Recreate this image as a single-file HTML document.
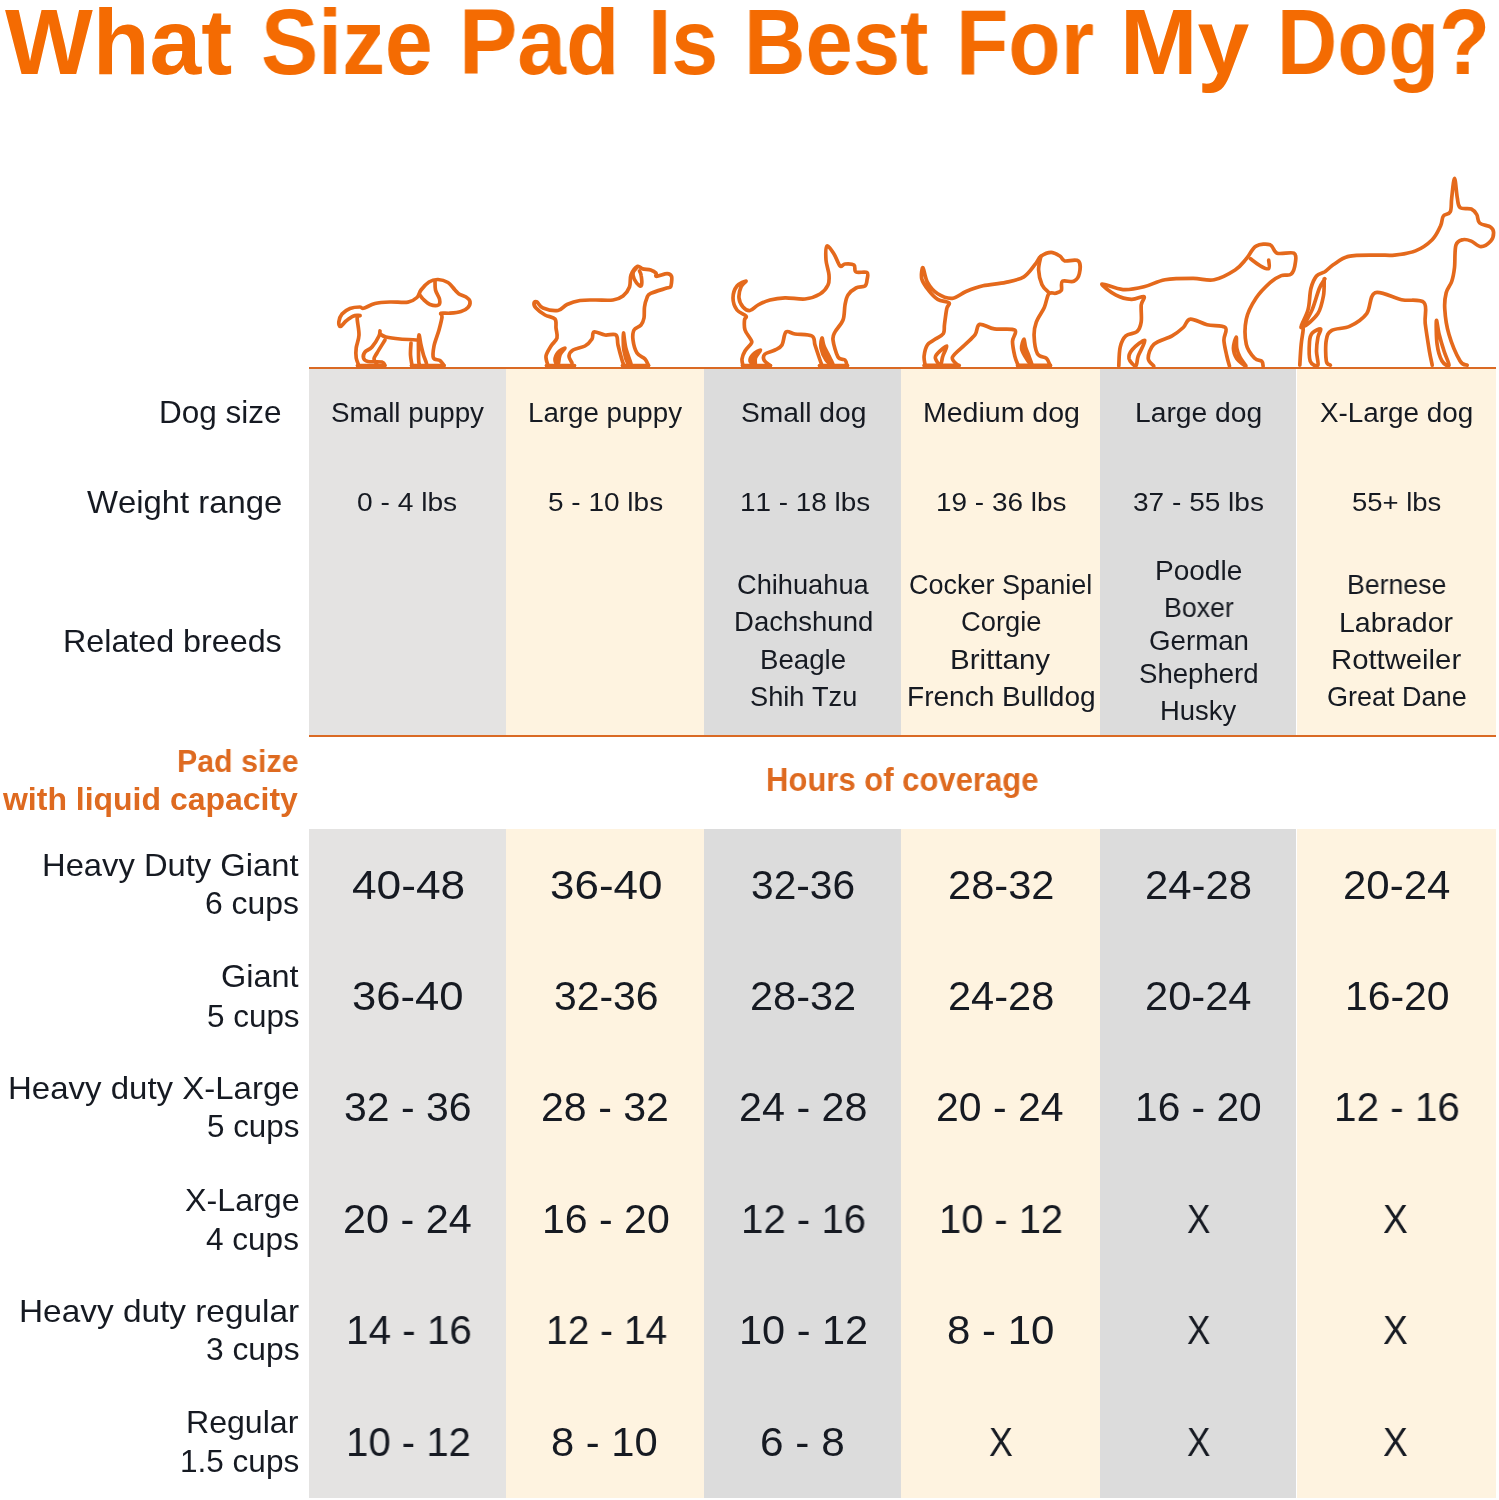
<!DOCTYPE html>
<html><head><meta charset="utf-8"><style>
html,body{margin:0;padding:0;background:#fff;}
body{width:1499px;height:1500px;position:relative;overflow:hidden;font-family:"Liberation Sans",sans-serif;color:#161A22;}
.t{position:absolute;white-space:pre;line-height:1;transform-origin:0 0;font-kerning:none;will-change:transform;}
</style></head><body>
<div style="position:absolute;left:309px;top:369px;width:197px;height:366px;background:#E4E3E2"></div><div style="position:absolute;left:309px;top:828.5px;width:197px;height:669px;background:#E4E3E2"></div><div style="position:absolute;left:506px;top:369px;width:198.3px;height:366px;background:#FEF3E0"></div><div style="position:absolute;left:506px;top:828.5px;width:198.3px;height:669px;background:#FEF3E0"></div><div style="position:absolute;left:704.3px;top:369px;width:196.7px;height:366px;background:#DCDCDC"></div><div style="position:absolute;left:704.3px;top:828.5px;width:196.7px;height:669px;background:#DCDCDC"></div><div style="position:absolute;left:901px;top:369px;width:199.2px;height:366px;background:#FEF3E0"></div><div style="position:absolute;left:901px;top:828.5px;width:199.2px;height:669px;background:#FEF3E0"></div><div style="position:absolute;left:1100.2px;top:369px;width:196.3px;height:366px;background:#DCDCDC"></div><div style="position:absolute;left:1100.2px;top:828.5px;width:196.3px;height:669px;background:#DCDCDC"></div><div style="position:absolute;left:1296.5px;top:369px;width:199.5px;height:366px;background:#FEF3E0"></div><div style="position:absolute;left:1296.5px;top:828.5px;width:199.5px;height:669px;background:#FEF3E0"></div>
<div style="position:absolute;left:309px;top:366.6px;width:1187px;height:2.4px;background:#DA6A24"></div><div style="position:absolute;left:309px;top:735.2px;width:1187px;height:2.3px;background:#DA6A24"></div>
<svg width="1499" height="1500" viewBox="0 0 1499 1500" style="position:absolute;left:0;top:0" fill="none" stroke="#E4691C" stroke-width="3.7" stroke-linecap="round" stroke-linejoin="round"><path d="M359.0 366.0C358.5 364.7 356.7 361.0 356.2 358.0C355.7 355.0 355.7 351.8 356.2 348.0C356.7 344.2 358.8 340.0 359.0 335.0C359.2 330.0 357.0 321.2 357.2 318.0C357.4 314.8 360.7 315.8 360.0 315.5C359.3 315.2 355.3 315.3 353.0 316.2C350.7 317.1 348.1 319.3 346.0 321.0C343.9 322.7 341.7 326.3 340.5 326.5C339.3 326.7 338.6 324.1 338.8 322.0C339.1 319.9 340.1 316.2 342.0 314.0C343.9 311.8 347.0 309.7 350.0 308.5C353.0 307.3 357.8 307.0 360.0 307.0C362.2 307.0 361.0 308.9 363.5 308.3C366.0 307.7 370.6 304.6 375.0 303.5C379.4 302.4 384.5 302.2 390.0 302.0C395.5 301.8 403.5 302.9 408.0 302.2C412.5 301.4 414.8 299.5 417.0 297.5C419.2 295.5 419.0 292.6 421.0 290.0C423.0 287.4 426.2 283.8 429.0 282.0C431.8 280.2 434.8 279.4 438.0 279.5C441.2 279.6 445.2 280.8 448.0 282.5C450.8 284.2 453.2 288.1 455.0 290.0C456.8 291.9 457.2 292.8 459.0 294.0C460.8 295.2 464.2 295.8 466.0 297.0C467.8 298.2 469.7 299.8 470.0 301.5C470.3 303.2 469.5 305.8 468.0 307.5C466.5 309.2 464.0 310.6 461.0 311.5C458.0 312.4 453.3 312.9 450.0 313.2C446.7 313.5 442.3 312.6 441.0 313.2C439.7 313.8 442.3 314.2 442.0 317.0C441.7 319.8 440.3 325.2 439.0 330.0C437.7 334.8 434.9 341.3 434.0 346.0C433.1 350.7 432.5 355.6 433.5 358.0C434.5 360.4 438.2 359.2 440.0 360.5C441.8 361.8 443.3 364.7 444.0 365.5"/><path d="M435.0 281.0C435.1 282.5 434.8 287.0 435.5 290.0C436.2 293.0 439.0 296.5 439.5 299.0C440.0 301.5 440.1 304.1 438.5 305.0C436.9 305.9 432.6 305.5 430.0 304.5C427.4 303.5 424.8 300.7 423.0 299.0C421.2 297.3 420.1 295.2 419.5 294.5"/><path d="M380.0 331.0C379.8 331.8 380.3 333.3 379.0 336.0C377.7 338.7 374.3 344.3 372.0 347.0C369.7 349.7 366.4 350.2 365.0 352.0C363.6 353.8 363.0 356.4 363.5 358.0C364.0 359.6 364.9 360.8 368.0 361.5C371.1 362.2 379.2 361.3 382.0 362.0C384.8 362.7 384.5 364.9 385.0 365.5"/><path d="M385.0 340.0C383.7 342.2 378.8 349.8 377.0 353.0C375.2 356.2 374.0 357.1 374.0 359.0C374.0 360.9 376.5 363.6 377.0 364.5"/><path d="M380.0 334.0C381.0 334.5 382.7 336.2 386.0 337.0C389.3 337.8 394.7 338.5 400.0 339.0C405.3 339.5 415.0 339.8 418.0 340.0"/><path d="M411.0 343.0C410.9 345.0 410.3 351.2 410.5 355.0C410.7 358.8 411.8 363.8 412.0 365.5"/><path d="M419.0 335.0C419.4 334.2 420.2 341.7 421.0 345.0C421.8 348.3 422.6 351.7 423.5 355.0C424.4 358.3 427.2 363.3 426.5 365.0C425.8 366.7 420.8 367.5 419.5 365.0C418.2 362.5 418.6 355.0 418.5 350.0C418.4 345.0 418.6 335.8 419.0 335.0Z"/><path d="M357.5 365.5H384.5"/><path d="M411.5 365.5H444.0"/><path d="M548.0 365.5C547.7 363.9 545.5 359.2 546.0 356.0C546.5 352.8 549.2 349.0 551.0 346.0C552.8 343.0 556.2 341.0 557.0 338.0C557.8 335.0 556.3 331.2 556.0 328.0C555.7 324.8 556.8 321.2 555.0 319.0C553.2 316.8 548.2 316.8 545.0 315.0C541.8 313.2 537.8 310.0 536.0 308.0C534.2 306.0 533.8 304.0 534.0 303.0C534.2 302.0 535.5 301.2 537.0 302.0C538.5 302.8 539.5 306.6 543.0 308.0C546.5 309.4 554.0 311.1 558.0 310.5C562.0 309.9 563.3 306.2 567.0 304.5C570.7 302.8 575.3 301.2 580.0 300.5C584.7 299.8 589.5 300.1 595.0 300.0C600.5 299.9 608.3 300.7 613.0 300.0C617.7 299.3 620.2 298.2 623.0 296.0C625.8 293.8 628.2 290.5 629.5 287.0C630.8 283.5 629.7 278.4 631.0 275.0C632.3 271.6 635.4 267.4 637.4 266.4C639.4 265.4 640.5 268.3 642.7 268.9C644.9 269.5 648.5 269.2 650.7 269.9C652.9 270.6 655.0 272.0 656.0 273.1C657.0 274.2 654.7 276.2 656.6 276.3C658.5 276.4 664.7 273.7 667.2 273.7C669.7 273.7 670.8 274.8 671.5 276.3C672.2 277.8 671.7 280.9 671.5 282.7C671.3 284.5 671.2 286.1 670.4 287.0C669.6 287.9 670.0 287.0 666.7 288.1C663.4 289.2 654.0 291.8 650.7 293.4C647.4 295.0 648.0 295.4 647.0 297.7C646.0 300.0 645.0 303.6 644.5 307.0C644.0 310.4 644.6 315.0 644.0 318.0C643.4 321.0 642.7 323.0 641.0 325.0C639.3 327.0 635.3 327.5 634.0 330.0C632.7 332.5 632.5 336.2 633.0 340.0C633.5 343.8 635.0 349.8 637.0 353.0C639.0 356.2 643.1 356.9 645.0 359.0C646.9 361.1 647.9 364.4 648.5 365.5"/><path d="M637.4 266.7C636.7 267.7 633.6 270.6 633.1 272.6C632.6 274.7 633.2 276.9 634.2 279.0C635.2 281.1 637.8 284.4 639.0 285.4C640.2 286.4 641.2 286.6 641.6 284.9C642.0 283.2 641.5 277.6 641.1 275.3C640.8 273.0 639.8 271.7 639.5 271.0"/><path d="M572.0 363.0C571.5 361.8 568.8 358.2 569.0 356.0C569.2 353.8 570.3 351.7 573.0 350.0C575.7 348.3 581.8 347.8 585.0 346.0C588.2 344.2 590.5 341.3 592.0 339.0C593.5 336.7 591.8 332.7 594.0 332.0C596.2 331.3 601.3 334.5 605.0 335.0C608.7 335.5 613.8 333.3 616.0 335.0C618.2 336.7 617.0 340.8 618.0 345.0C619.0 349.2 621.0 356.6 622.0 360.0C623.0 363.4 623.7 364.6 624.0 365.5"/><path fill="#E4691C" d="M565.0 348.0C564.7 347.6 559.7 350.5 558.0 352.5C556.3 354.5 555.0 357.8 555.0 360.0C555.0 362.2 557.2 366.3 558.0 365.5C558.8 364.7 558.8 357.9 560.0 355.0C561.2 352.1 565.3 348.4 565.0 348.0Z"/><path fill="#E4691C" d="M623.5 333.0C623.2 333.3 623.0 344.7 623.8 350.0C624.6 355.3 627.3 362.7 628.5 365.0C629.7 367.3 631.5 366.8 631.0 364.0C630.5 361.2 627.0 353.2 625.8 348.0C624.5 342.8 623.8 332.7 623.5 333.0Z"/><path d="M546.5 365.5H574.5"/><path d="M622.5 365.5H648.5"/><path d="M743.0 365.5C742.8 364.4 741.7 361.4 742.0 359.0C742.3 356.6 743.4 353.7 745.0 351.0C746.6 348.3 750.6 345.0 751.5 343.0C752.4 341.0 751.6 341.2 750.5 339.0C749.4 336.8 746.0 333.2 745.0 330.0C744.0 326.8 744.3 322.3 744.5 320.0C744.7 317.7 747.2 317.7 746.0 316.0C744.8 314.3 739.2 313.0 737.0 310.0C734.8 307.0 733.0 302.0 733.0 298.0C733.0 294.0 734.8 288.8 737.0 286.0C739.2 283.2 745.3 280.8 746.0 281.0C746.7 281.2 742.2 284.2 741.0 287.0C739.8 289.8 738.7 294.7 739.0 298.0C739.3 301.3 741.2 304.9 743.0 307.0C744.8 309.1 747.5 310.8 750.0 310.5C752.5 310.2 754.7 306.8 758.0 305.0C761.3 303.2 765.5 301.2 770.0 300.0C774.5 298.8 779.2 298.0 785.0 297.8C790.8 297.6 799.2 299.6 805.0 299.0C810.8 298.4 816.2 296.3 820.0 294.0C823.8 291.7 826.5 288.2 828.0 285.0C829.5 281.8 829.3 279.2 829.0 275.0C828.7 270.8 826.3 264.8 826.0 260.0C825.7 255.2 825.7 247.0 827.0 246.0C828.3 245.0 831.8 250.7 834.0 254.0C836.2 257.3 838.2 264.3 840.0 266.0C841.8 267.7 842.7 264.2 845.0 264.0C847.3 263.8 852.2 263.7 854.0 265.0C855.8 266.3 853.8 270.8 856.0 272.0C858.2 273.2 865.2 271.2 867.0 272.5C868.8 273.8 867.3 277.8 867.0 280.0C866.7 282.2 866.8 284.7 865.0 286.0C863.2 287.3 858.8 286.5 856.0 288.0C853.2 289.5 849.8 292.2 848.0 295.0C846.2 297.8 845.8 300.8 845.0 305.0C844.2 309.2 844.7 315.5 843.0 320.0C841.3 324.5 836.7 328.7 835.0 332.0C833.3 335.3 832.5 335.8 833.0 340.0C833.5 344.2 836.0 353.7 838.0 357.0C840.0 360.3 843.5 358.6 845.0 360.0C846.5 361.4 846.7 364.6 847.0 365.5"/><path d="M770.0 365.5C769.0 364.6 764.8 361.9 764.0 360.0C763.2 358.1 763.2 355.7 765.0 354.0C766.8 352.3 772.2 351.5 775.0 350.0C777.8 348.5 780.2 348.0 782.0 345.0C783.8 342.0 783.8 333.8 786.0 332.0C788.2 330.2 790.7 333.3 795.0 334.0C799.3 334.7 808.7 334.2 812.0 336.0C815.3 337.8 813.7 341.0 815.0 345.0C816.3 349.0 818.8 356.6 820.0 360.0C821.2 363.4 821.7 364.6 822.0 365.5"/><path fill="#E4691C" d="M760.5 350.0C760.1 349.4 754.8 352.7 753.0 354.5C751.2 356.3 749.7 359.2 750.0 361.0C750.3 362.8 754.1 366.0 755.0 365.5C755.9 365.0 754.6 360.6 755.5 358.0C756.4 355.4 760.9 350.6 760.5 350.0Z"/><path fill="#E4691C" d="M822.0 338.0C821.5 338.3 820.3 344.3 821.0 348.0C821.7 351.7 824.0 357.1 826.0 360.0C828.0 362.9 832.3 365.8 833.0 365.5C833.7 365.2 831.5 361.2 830.0 358.0C828.5 354.8 825.3 349.3 824.0 346.0C822.7 342.7 822.5 337.7 822.0 338.0Z"/><path d="M742.5 365.5H770.5"/><path d="M819.5 365.5H847.5"/><path d="M925.2 365.4C925.0 363.9 923.7 359.6 924.1 356.1C924.5 352.7 925.6 347.6 927.5 344.8C929.4 342.0 932.8 341.0 935.4 339.1C938.1 337.2 941.8 335.9 943.4 333.5C944.9 331.0 943.9 328.5 944.5 324.4C945.1 320.2 946.0 312.1 946.8 308.5C947.5 304.9 950.5 304.3 949.0 302.8C947.5 301.3 941.1 301.5 937.7 299.4C934.3 297.4 931.3 293.8 928.6 290.4C926.0 287.0 922.7 282.8 921.8 279.0C920.9 275.2 922.0 267.1 922.9 267.7C923.9 268.2 925.0 278.1 927.5 282.4C929.9 286.8 933.5 291.1 937.7 293.8C941.8 296.4 947.7 298.7 952.4 298.3C957.1 297.9 960.9 293.6 966.0 291.5C971.1 289.4 976.4 287.3 983.0 285.8C989.7 284.3 998.9 283.9 1005.7 282.4C1012.5 280.9 1019.0 279.8 1023.9 276.8C1028.8 273.7 1032.4 267.7 1035.2 264.3C1038.0 260.9 1038.2 258.3 1040.9 256.3C1043.5 254.4 1047.9 252.4 1051.1 252.4C1054.3 252.4 1057.9 254.9 1060.2 256.3C1062.4 257.8 1061.7 260.1 1064.7 260.9C1067.7 261.6 1075.8 258.8 1078.3 260.9C1080.8 263.0 1080.2 269.9 1079.4 273.4C1078.7 276.8 1076.6 280.0 1073.8 281.3C1070.9 282.6 1064.5 279.8 1062.4 281.3C1060.3 282.8 1062.4 288.4 1061.3 290.4C1060.2 292.3 1057.7 292.6 1055.6 293.2C1053.5 293.8 1050.7 291.4 1048.8 293.8C1046.9 296.1 1046.4 302.6 1044.3 307.4C1042.2 312.1 1038.0 317.4 1036.3 322.1C1034.6 326.8 1033.9 330.4 1034.1 335.7C1034.3 341.0 1035.4 350.1 1037.5 353.9C1039.6 357.6 1044.5 356.5 1046.5 358.4C1048.6 360.3 1049.4 364.3 1050.0 365.4"/><path d="M1040.9 256.3C1040.5 258.6 1038.4 265.2 1038.6 269.9C1038.8 274.7 1040.3 280.9 1042.0 284.7C1043.7 288.5 1047.7 291.3 1048.8 292.6"/><path d="M958.1 365.4C957.1 364.1 951.3 360.7 952.4 357.3C953.6 353.8 961.1 348.6 964.9 344.8C968.7 341.0 972.6 338.0 975.1 334.6C977.6 331.2 976.4 325.3 979.6 324.4C982.9 323.4 988.5 328.0 994.4 328.9C1000.2 329.9 1011.8 328.0 1014.8 330.1C1017.8 332.1 1012.5 337.0 1012.5 341.4C1012.5 345.7 1013.9 352.1 1014.8 356.1C1015.7 360.1 1017.6 363.9 1018.2 365.4"/><path d="M946.8 346.0C945.9 345.6 939.6 351.2 937.7 353.3C935.8 355.4 934.9 356.4 935.4 358.4C935.9 360.4 939.3 365.6 940.5 365.2C941.7 364.8 941.7 359.3 942.8 356.1C943.8 352.9 947.6 346.5 946.8 346.0Z"/><path fill="#E4691C" d="M1023.9 339.2C1023.2 339.4 1021.4 345.5 1021.6 348.3C1021.8 351.1 1023.3 353.4 1025.0 356.2C1026.7 359.1 1031.1 365.2 1031.8 365.2C1032.5 365.2 1030.0 359.3 1029.0 356.2C1027.9 353.2 1026.4 350.0 1025.6 347.2C1024.7 344.3 1024.5 339.1 1023.9 339.2Z"/><path d="M924.1 365.4H959.2"/><path d="M1017.6 365.4H1050.5"/><path d="M1118.8 366.0C1119.0 362.8 1119.0 352.1 1120.2 347.1C1121.4 342.1 1123.0 338.4 1125.8 335.9C1128.6 333.3 1134.5 334.0 1137.0 331.7C1139.6 329.3 1140.5 326.3 1141.2 321.9C1141.9 317.4 1140.8 309.3 1141.2 305.0C1141.7 300.8 1145.7 297.6 1144.0 296.6C1142.4 295.7 1136.1 299.7 1131.4 299.4C1126.8 299.2 1120.9 297.8 1116.0 295.2C1111.1 292.7 1100.8 285.0 1102.0 284.0C1103.2 283.1 1116.0 289.2 1123.0 289.6C1130.0 290.1 1137.0 288.5 1144.0 286.8C1151.0 285.2 1156.9 281.2 1165.0 279.8C1173.2 278.4 1184.9 278.4 1193.1 278.4C1201.2 278.4 1207.1 281.2 1214.1 279.8C1221.1 278.4 1229.7 273.5 1235.1 270.0C1240.5 266.5 1242.8 262.8 1246.3 258.8C1249.8 254.8 1252.1 248.5 1256.1 246.2C1260.1 243.9 1266.6 243.6 1270.1 244.8C1273.6 246.0 1273.2 251.8 1277.1 253.2C1281.1 254.6 1290.9 251.6 1293.9 253.2C1297.0 254.8 1295.8 259.5 1295.3 263.0C1294.9 266.5 1293.5 272.1 1291.1 274.2C1288.8 276.3 1284.8 274.2 1281.3 275.6C1277.8 277.0 1274.3 278.9 1270.1 282.6C1265.9 286.4 1260.1 292.0 1256.1 298.0C1252.1 304.1 1247.9 311.4 1246.3 319.1C1244.7 326.8 1244.9 337.7 1246.3 344.3C1247.7 350.8 1252.1 355.5 1254.7 358.3C1257.3 361.1 1260.3 359.8 1261.7 361.1C1263.1 362.4 1262.9 365.2 1263.1 366.0"/><path d="M1250.5 258.8C1252.1 260.0 1257.3 264.2 1260.3 265.8C1263.3 267.5 1267.3 269.6 1268.7 268.6C1270.1 267.7 1268.7 261.6 1268.7 260.2"/><path d="M1153.8 366.0C1152.9 364.7 1148.2 361.9 1148.2 358.3C1148.2 354.7 1149.9 348.0 1153.8 344.3C1157.8 340.5 1167.1 338.7 1172.1 335.9C1177.0 333.1 1180.2 330.3 1183.3 327.5C1186.3 324.7 1186.3 319.5 1190.3 319.1C1194.2 318.6 1201.2 323.3 1207.1 324.7C1212.9 326.1 1222.5 324.9 1225.3 327.5C1228.1 330.0 1223.7 335.4 1223.9 340.1C1224.1 344.7 1225.8 351.2 1226.7 355.5C1227.6 359.8 1229.0 364.2 1229.5 366.0"/><path d="M1144.9 340.4C1143.9 339.2 1135.0 346.4 1132.4 349.5C1129.8 352.5 1128.5 355.8 1129.0 358.6C1129.6 361.3 1134.3 366.4 1135.8 366.0C1137.3 365.6 1136.6 360.6 1138.1 356.3C1139.7 352.0 1145.8 341.5 1144.9 340.4Z"/><path d="M1236.2 337.0C1235.7 337.0 1233.3 344.7 1233.4 348.3C1233.5 351.9 1234.7 355.6 1236.8 358.6C1238.9 361.5 1245.3 366.2 1245.9 366.0C1246.4 365.8 1241.7 360.4 1240.1 357.4C1238.6 354.5 1237.4 351.7 1236.8 348.3C1236.1 344.9 1236.8 337.0 1236.2 337.0Z"/><path d="M1299.8 365.2C1300.0 361.7 1300.6 350.3 1301.2 344.3C1301.7 338.2 1303.2 332.0 1303.2 329.0C1303.2 325.9 1300.3 329.4 1301.2 326.2C1302.0 322.9 1306.5 315.7 1308.1 309.4C1309.8 303.2 1309.5 294.1 1310.9 288.5C1312.3 282.9 1314.2 278.8 1316.5 276.0C1318.8 273.2 1322.1 273.6 1324.9 271.8C1327.6 269.9 1329.3 267.4 1333.2 264.8C1337.2 262.3 1341.4 258.1 1348.6 256.4C1355.8 254.8 1368.8 255.3 1376.4 255.1C1384.1 254.8 1388.1 255.8 1394.6 255.1C1401.1 254.4 1409.2 253.4 1415.5 250.9C1421.8 248.3 1428.0 243.9 1432.2 239.7C1436.4 235.5 1438.7 229.7 1440.6 225.8C1442.4 221.8 1441.7 218.3 1443.4 216.0C1445.0 213.7 1449.0 214.9 1450.3 211.8C1451.7 208.8 1451.0 203.5 1451.7 197.9C1452.4 192.3 1453.6 178.4 1454.5 178.4C1455.5 178.4 1456.4 193.0 1457.3 197.9C1458.2 202.8 1457.8 205.8 1460.1 207.6C1462.4 209.5 1468.5 207.9 1471.3 209.0C1474.0 210.2 1475.4 212.3 1476.8 214.6C1478.2 216.9 1477.3 220.9 1479.6 223.0C1482.0 225.1 1488.5 225.5 1490.8 227.2C1493.1 228.8 1493.6 230.4 1493.6 232.7C1493.6 235.1 1492.9 238.8 1490.8 241.1C1488.7 243.4 1484.3 246.7 1481.0 246.7C1477.8 246.7 1474.3 242.3 1471.3 241.1C1468.2 239.9 1465.5 239.0 1462.9 239.7C1460.3 240.4 1457.3 240.6 1455.9 245.3C1454.5 249.9 1455.2 261.6 1454.5 267.6C1453.8 273.6 1453.1 277.4 1451.7 281.5C1450.3 285.7 1447.3 288.1 1446.2 292.7C1445.0 297.3 1444.3 302.5 1444.8 309.4C1445.2 316.4 1446.4 325.9 1449.0 334.5C1451.5 343.1 1457.1 355.9 1460.1 361.0C1463.1 366.1 1465.9 364.5 1467.1 365.2"/><path d="M1324.9 278.8C1323.9 280.4 1321.4 283.4 1319.3 288.5C1317.2 293.6 1314.9 303.2 1312.3 309.4C1309.8 315.7 1303.0 325.5 1303.9 326.2C1304.9 326.9 1314.6 318.7 1317.9 313.6C1321.1 308.5 1322.4 301.3 1323.5 295.5C1324.5 289.7 1324.0 281.5 1324.2 278.8"/><path d="M1330.4 365.2C1329.7 364.5 1326.9 365.2 1326.3 361.0C1325.6 356.8 1325.3 345.2 1326.3 340.1C1327.2 335.0 1327.9 332.7 1331.8 330.3C1335.8 328.0 1344.1 329.0 1350.0 326.2C1355.8 323.4 1362.5 319.2 1366.7 313.6C1370.9 308.0 1369.2 295.0 1375.1 292.7C1380.9 290.4 1393.4 298.0 1401.5 299.7C1409.7 301.3 1419.9 298.5 1423.9 302.5C1427.8 306.4 1424.3 315.2 1425.2 323.4C1426.2 331.5 1428.3 344.3 1429.4 351.3C1430.6 358.2 1431.8 362.9 1432.2 365.2"/><path d="M1320.7 329.0C1319.7 328.3 1314.2 331.0 1312.3 333.1C1310.4 335.2 1309.9 336.9 1309.5 341.5C1309.2 346.1 1308.8 357.1 1310.2 361.0C1311.6 365.0 1316.8 366.8 1317.9 365.2C1318.9 363.6 1316.5 355.9 1316.5 351.3C1316.5 346.6 1317.2 341.0 1317.9 337.3C1318.6 333.6 1321.6 329.6 1320.7 329.0Z"/><path d="M1436.4 320.6C1436.1 322.2 1436.2 337.5 1437.1 344.3C1438.0 351.0 1440.0 357.5 1442.0 361.0C1444.0 364.5 1448.6 366.8 1449.0 365.2C1449.3 363.6 1445.7 356.4 1444.1 351.3C1442.4 346.1 1440.5 339.6 1439.2 334.5C1437.9 329.4 1436.8 319.0 1436.4 320.6Z"/></svg>
<div class="t" style="left:5.41px;top:-4px;font-size:93.02px;font-weight:bold;color:#F46B02;">What</div><div class="t" style="left:261.03px;top:-4px;font-size:93.02px;transform:scaleX(0.9217);font-weight:bold;color:#F46B02;">Size</div><div class="t" style="left:459.23px;top:-4px;font-size:93.02px;transform:scaleX(0.9405);font-weight:bold;color:#F46B02;">Pad</div><div class="t" style="left:648.34px;top:-4px;font-size:93.02px;transform:scaleX(0.9052);font-weight:bold;color:#F46B02;">Is</div><div class="t" style="left:743.99px;top:-4px;font-size:93.02px;transform:scaleX(0.9139);font-weight:bold;color:#F46B02;">Best</div><div class="t" style="left:956.14px;top:-4px;font-size:93.02px;transform:scaleX(0.9211);font-weight:bold;color:#F46B02;">For</div><div class="t" style="left:1119.57px;top:-4px;font-size:93.02px;font-weight:bold;color:#F46B02;">My</div><div class="t" style="left:1276.90px;top:-4px;font-size:93.02px;transform:scaleX(0.8964);font-weight:bold;color:#F46B02;">Dog?</div><div class="t" style="left:159.12px;top:397px;font-size:31.25px;transform:scaleX(1.0066);">Dog size</div><div class="t" style="left:87.17px;top:487px;font-size:31.25px;transform:scaleX(1.0505);">Weight range</div><div class="t" style="left:63.46px;top:626px;font-size:31.25px;transform:scaleX(1.0319);">Related breeds</div><div class="t" style="left:330.72px;top:399px;font-size:27.62px;transform:scaleX(1.0072);">Small puppy</div><div class="t" style="left:528.23px;top:399px;font-size:27.62px;transform:scaleX(1.0031);">Large puppy</div><div class="t" style="left:741.20px;top:399px;font-size:27.62px;transform:scaleX(1.0213);">Small dog</div><div class="t" style="left:923.46px;top:399px;font-size:27.62px;transform:scaleX(1.0330);">Medium dog</div><div class="t" style="left:1135.08px;top:399px;font-size:27.62px;transform:scaleX(1.0228);">Large dog</div><div class="t" style="left:1320.13px;top:399px;font-size:27.62px;transform:scaleX(1.0089);">X-Large dog</div><div class="t" style="left:357.47px;top:489px;font-size:26.45px;transform:scaleX(1.0650);">0 - 4 lbs</div><div class="t" style="left:548.08px;top:489px;font-size:26.45px;transform:scaleX(1.0588);">5 - 10 lbs</div><div class="t" style="left:739.58px;top:489px;font-size:26.45px;transform:scaleX(1.0547);">11 - 18 lbs</div><div class="t" style="left:936.38px;top:489px;font-size:26.45px;transform:scaleX(1.0566);">19 - 36 lbs</div><div class="t" style="left:1133.13px;top:489px;font-size:26.45px;transform:scaleX(1.0610);">37 - 55 lbs</div><div class="t" style="left:1352.30px;top:489px;font-size:26.45px;transform:scaleX(1.0391);">55+ lbs</div><div class="t" style="left:736.84px;top:572px;font-size:27.03px;transform:scaleX(1.0074);">Chihuahua</div><div class="t" style="left:733.74px;top:609px;font-size:27.03px;transform:scaleX(1.0189);">Dachshund</div><div class="t" style="left:760.43px;top:647px;font-size:27.03px;transform:scaleX(1.0238);">Beagle</div><div class="t" style="left:750.25px;top:684px;font-size:27.03px;transform:scaleX(1.0062);">Shih Tzu</div><div class="t" style="left:909.45px;top:572px;font-size:27.03px;">Cocker Spaniel</div><div class="t" style="left:960.93px;top:609px;font-size:27.03px;transform:scaleX(1.0103);">Corgie</div><div class="t" style="left:950.28px;top:647px;font-size:27.03px;transform:scaleX(1.0931);">Brittany</div><div class="t" style="left:906.60px;top:684px;font-size:27.03px;transform:scaleX(1.0383);">French Bulldog</div><div class="t" style="left:1154.90px;top:558px;font-size:27.03px;transform:scaleX(1.0374);">Poodle</div><div class="t" style="left:1163.50px;top:595px;font-size:27.03px;transform:scaleX(0.9902);">Boxer</div><div class="t" style="left:1148.81px;top:628px;font-size:27.03px;transform:scaleX(1.0247);">German</div><div class="t" style="left:1139.13px;top:661px;font-size:27.03px;transform:scaleX(1.0206);">Shepherd</div><div class="t" style="left:1160.25px;top:698px;font-size:27.03px;transform:scaleX(1.0147);">Husky</div><div class="t" style="left:1347.11px;top:572px;font-size:27.03px;transform:scaleX(0.9880);">Bernese</div><div class="t" style="left:1338.96px;top:610px;font-size:27.03px;transform:scaleX(1.0545);">Labrador</div><div class="t" style="left:1330.90px;top:647px;font-size:27.03px;transform:scaleX(1.0835);">Rottweiler</div><div class="t" style="left:1326.65px;top:684px;font-size:27.03px;">Great Dane</div><div class="t" style="left:177.30px;top:745px;font-size:31.98px;transform:scaleX(0.9497);font-weight:bold;color:#DE6A20;">Pad size</div><div class="t" style="left:3.26px;top:783px;font-size:31.98px;font-weight:bold;color:#DE6A20;">with liquid capacity</div><div class="t" style="left:765.75px;top:764px;font-size:32.56px;transform:scaleX(0.9533);font-weight:bold;color:#DE6A20;">Hours of coverage</div><div class="t" style="left:41.81px;top:851px;font-size:30.96px;transform:scaleX(1.0579);">Heavy Duty Giant</div><div class="t" style="left:205.41px;top:889px;font-size:30.96px;transform:scaleX(1.0300);">6 cups</div><div class="t" style="left:351.73px;top:865px;font-size:40.70px;transform:scaleX(1.0876);">40-48</div><div class="t" style="left:549.53px;top:865px;font-size:40.70px;transform:scaleX(1.0801);">36-40</div><div class="t" style="left:751.25px;top:865px;font-size:40.70px;">32-36</div><div class="t" style="left:947.52px;top:865px;font-size:40.70px;transform:scaleX(1.0236);">28-32</div><div class="t" style="left:1144.81px;top:865px;font-size:40.70px;transform:scaleX(1.0291);">24-28</div><div class="t" style="left:1342.50px;top:865px;font-size:40.70px;transform:scaleX(1.0312);">20-24</div><div class="t" style="left:220.88px;top:962px;font-size:30.96px;transform:scaleX(1.0485);">Giant</div><div class="t" style="left:206.74px;top:1002px;font-size:30.96px;transform:scaleX(1.0152);">5 cups</div><div class="t" style="left:351.84px;top:976px;font-size:40.70px;transform:scaleX(1.0722);">36-40</div><div class="t" style="left:553.55px;top:976px;font-size:40.70px;transform:scaleX(1.0053);">32-36</div><div class="t" style="left:749.52px;top:976px;font-size:40.70px;transform:scaleX(1.0206);">28-32</div><div class="t" style="left:947.52px;top:976px;font-size:40.70px;transform:scaleX(1.0212);">24-28</div><div class="t" style="left:1144.82px;top:976px;font-size:40.70px;transform:scaleX(1.0233);">20-24</div><div class="t" style="left:1344.69px;top:976px;font-size:40.70px;transform:scaleX(1.0054);">16-20</div><div class="t" style="left:7.99px;top:1074px;font-size:30.96px;transform:scaleX(1.0659);">Heavy duty X-Large</div><div class="t" style="left:206.95px;top:1112px;font-size:30.96px;transform:scaleX(1.0129);">5 cups</div><div class="t" style="left:343.94px;top:1087px;font-size:40.70px;transform:scaleX(1.0073);">32 - 36</div><div class="t" style="left:541.14px;top:1087px;font-size:40.70px;transform:scaleX(1.0101);">28 - 32</div><div class="t" style="left:738.84px;top:1087px;font-size:40.70px;transform:scaleX(1.0146);">24 - 28</div><div class="t" style="left:936.45px;top:1087px;font-size:40.70px;transform:scaleX(1.0067);">20 - 24</div><div class="t" style="left:1135.10px;top:1087px;font-size:40.70px;">16 - 20</div><div class="t" style="left:1333.63px;top:1087px;font-size:40.70px;transform:scaleX(0.9939);">12 - 16</div><div class="t" style="left:184.93px;top:1186px;font-size:30.96px;transform:scaleX(1.0412);">X-Large</div><div class="t" style="left:206.41px;top:1225px;font-size:30.96px;transform:scaleX(1.0189);">4 cups</div><div class="t" style="left:343.43px;top:1199px;font-size:40.70px;transform:scaleX(1.0164);">20 - 24</div><div class="t" style="left:542.08px;top:1199px;font-size:40.70px;transform:scaleX(1.0082);">16 - 20</div><div class="t" style="left:740.65px;top:1199px;font-size:40.70px;transform:scaleX(0.9873);">12 - 16</div><div class="t" style="left:938.67px;top:1199px;font-size:40.70px;transform:scaleX(0.9794);">10 - 12</div><div class="t" style="left:1186.96px;top:1199px;font-size:40.70px;transform:scaleX(0.8612);">X</div><div class="t" style="left:1383.41px;top:1199px;font-size:40.70px;transform:scaleX(0.9125);">X</div><div class="t" style="left:18.56px;top:1297px;font-size:30.96px;transform:scaleX(1.0784);">Heavy duty regular</div><div class="t" style="left:205.79px;top:1335px;font-size:30.96px;transform:scaleX(1.0257);">3 cups</div><div class="t" style="left:345.63px;top:1310px;font-size:40.70px;transform:scaleX(0.9939);">14 - 16</div><div class="t" style="left:546.24px;top:1310px;font-size:40.70px;transform:scaleX(0.9566);">12 - 14</div><div class="t" style="left:738.55px;top:1310px;font-size:40.70px;transform:scaleX(1.0189);">10 - 12</div><div class="t" style="left:947.15px;top:1310px;font-size:40.70px;transform:scaleX(1.0321);">8 - 10</div><div class="t" style="left:1186.96px;top:1310px;font-size:40.70px;transform:scaleX(0.8612);">X</div><div class="t" style="left:1383.41px;top:1310px;font-size:40.70px;transform:scaleX(0.9125);">X</div><div class="t" style="left:186.37px;top:1408px;font-size:30.96px;transform:scaleX(1.0368);">Regular</div><div class="t" style="left:180.10px;top:1447px;font-size:30.96px;transform:scaleX(1.0189);">1.5 cups</div><div class="t" style="left:345.65px;top:1422px;font-size:40.70px;transform:scaleX(0.9860);">10 - 12</div><div class="t" style="left:551.26px;top:1422px;font-size:40.70px;transform:scaleX(1.0251);">8 - 10</div><div class="t" style="left:760.18px;top:1422px;font-size:40.70px;transform:scaleX(1.0404);">6 - 8</div><div class="t" style="left:989.14px;top:1422px;font-size:40.70px;transform:scaleX(0.8770);">X</div><div class="t" style="left:1186.96px;top:1422px;font-size:40.70px;transform:scaleX(0.8612);">X</div><div class="t" style="left:1383.41px;top:1422px;font-size:40.70px;transform:scaleX(0.9125);">X</div>
</body></html>
